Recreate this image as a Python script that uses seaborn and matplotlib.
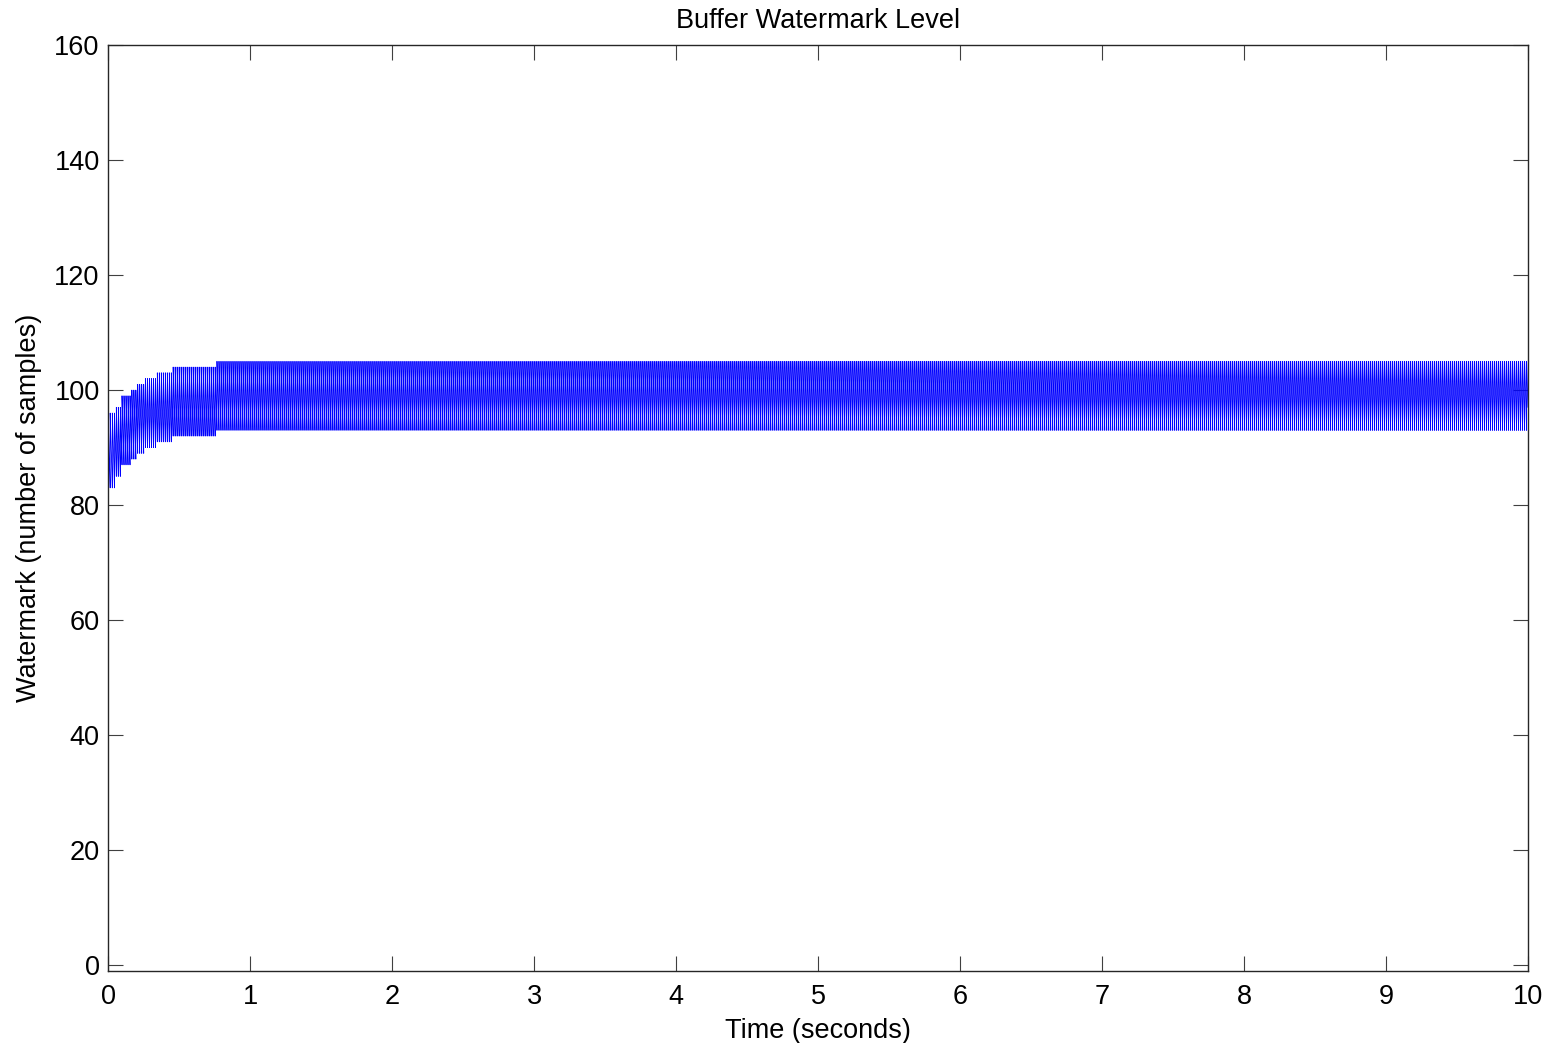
import numpy as np
import pandas as pd
import matplotlib
matplotlib.use("Agg")
import matplotlib.pyplot as plt
import seaborn as sns

# Buffer fill envelope: each segment starts at the given time (s) and the
# watermark swings between the upper and lower level (samples).
seg_start = [0.0, 0.050, 0.092, 0.155, 0.197, 0.261, 0.338, 0.458, 0.761]
seg_upper = [96, 97, 99, 100, 101, 102, 103, 104, 105]
seg_lower = [83, 85, 87, 88, 89, 90, 91, 92, 93]
initial_level = 101
refill_period = 0.01408  # time between block refills (s)
t_end = 10.0

x_ticks = list(range(0, 11))
y_ticks = list(range(0, 161, 20))

# Build the watermark trace: the level drains one sample per step and is
# refilled back to the upper mark when it reaches the lower mark.
step_dt = refill_period / 12
times = [0.0]
levels = [initial_level]
level = seg_lower[0]
k = 0
while k * step_dt <= t_end:
    t = k * step_dt
    idx = np.searchsorted(seg_start, t, side="right") - 1
    up, lo = seg_upper[idx], seg_lower[idx]
    if level <= lo:
        times.append(t)
        levels.append(lo)
        level = up
    times.append(t)
    levels.append(level)
    level -= 1
    k += 1

df = pd.DataFrame({"time": times, "level": levels})

sns.set_style("white")
plt.rcParams["font.family"] = ["Liberation Sans", "DejaVu Sans"]
plt.rcParams["text.color"] = "black"
plt.rcParams["axes.labelcolor"] = "black"
plt.rcParams["path.simplify"] = False

fig = plt.figure(figsize=(15.61, 10.43), dpi=100)
ax = fig.add_axes([0.0692, 0.0690, 0.9097, 0.8879])

sns.lineplot(data=df, x="time", y="level", estimator=None, sort=False,
             color="#0000ff", linewidth=0.6, ax=ax)

ax.set_xlim(0, 10)
ax.set_ylim(-1, 160)
ax.set_xticks(x_ticks)
ax.set_yticks(y_ticks)
ax.tick_params(direction="in", length=10.5, width=0.8, color="#404040",
               labelsize=19.5, labelcolor="black", top=True, right=True,
               bottom=True, left=True)
ax.tick_params(axis="x", pad=9)
ax.tick_params(axis="y", pad=6)
for sp in ax.spines.values():
    sp.set_visible(True)
    sp.set_color("#262626")
    sp.set_linewidth(1.0)

ax.set_title("Buffer Watermark Level", fontsize=19.5, pad=12, color="black")
ax.set_xlabel("Time (seconds)", fontsize=19.5, labelpad=6)
ax.set_ylabel("Watermark (number of samples)", fontsize=19.5, labelpad=9)

fig.savefig("out.png", dpi=100, facecolor="white")
